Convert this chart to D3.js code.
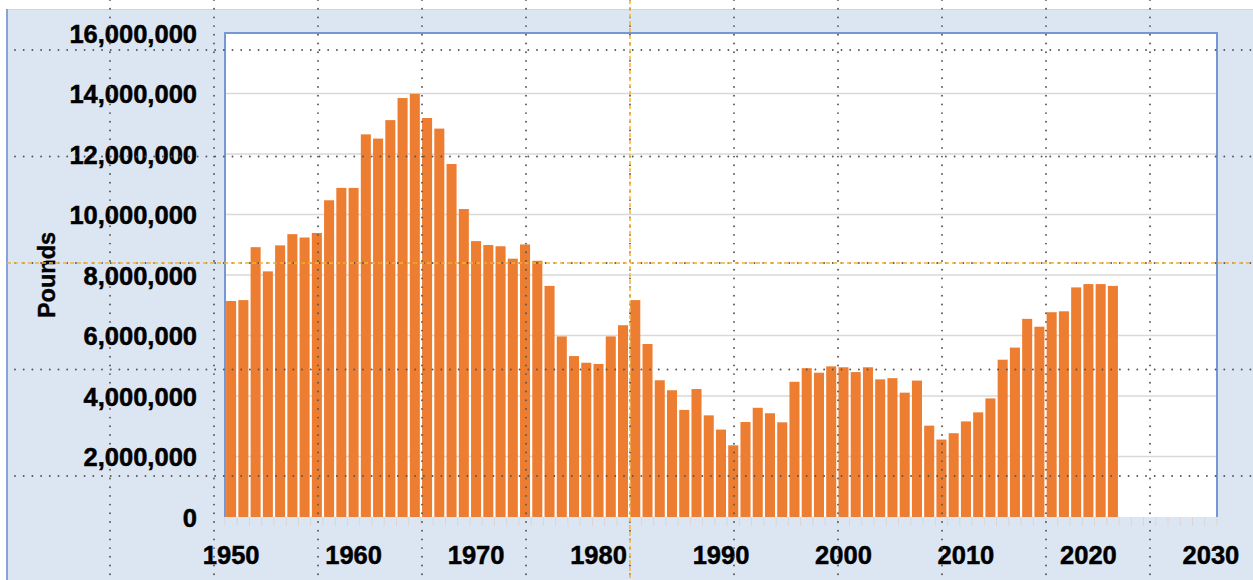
<!DOCTYPE html>
<html>
<head>
<meta charset="utf-8">
<script src="https://cdn.jsdelivr.net/npm/d3@7"></script>
<style>
  body { margin: 0; background: #fff; }
  text { font-family: "Liberation Sans", Arial, sans-serif; font-weight: bold; }
</style>
</head>
<body>
<svg id="chart" width="1253" height="580"></svg>
<script>
// pounds landed per year
var years = d3.range(1950, 2023);
var pounds = [
  7140000, 7170000, 8920000, 8120000, 8980000, 9350000, 9240000, 9390000, 10470000, 10880000,
  10880000, 12650000, 12510000, 13120000, 13850000, 13990000, 13190000, 12840000, 11670000, 10180000,
  9120000, 8990000, 8950000, 8540000, 9010000, 8470000, 7640000, 5970000, 5320000, 5100000,
  5060000, 5970000, 6340000, 7170000, 5720000, 4520000, 4190000, 3540000, 4230000, 3360000,
  2890000, 2370000, 3140000, 3610000, 3430000, 3130000, 4470000, 4920000, 4770000, 4980000,
  4950000, 4790000, 4950000, 4550000, 4590000, 4110000, 4510000, 3020000, 2560000, 2770000,
  3160000, 3460000, 3920000, 5200000, 5600000, 6550000, 6290000, 6770000, 6800000, 7590000,
  7700000, 7700000, 7640000
];
var axisYears = d3.range(1950, 2031);
var yearLabels = d3.range(1950, 2031, 10);
var poundTicks = d3.range(0, 16000001, 2000000);

var data = years.map(function(y, i) { return {year: y, value: pounds[i]}; });

var svg = d3.select("#chart"),
    W = +svg.attr("width"),
    H = +svg.attr("height"),
    plot = {left: 225, top: 33, right: 1217, bottom: 517};

var x = d3.scaleBand()
    .domain(axisYears)
    .range([plot.left, plot.right])
    .paddingInner(0.18)
    .paddingOuter(0.09);

var y = d3.scaleLinear()
    .domain([0, 16000000])
    .range([plot.bottom, plot.top]);

// chart area
svg.append("rect")
    .attr("x", 7).attr("y", 9)
    .attr("width", W - 7).attr("height", H - 9)
    .attr("fill", "#dce6f2");
svg.append("line")
    .attr("x1", 7).attr("x2", W).attr("y1", 9.5).attr("y2", 9.5)
    .attr("stroke", "#c9d6e8");
svg.append("line")
    .attr("x1", 7).attr("x2", 7).attr("y1", 9).attr("y2", H)
    .attr("stroke", "#86a4d6").attr("stroke-width", 2);

// plot area
svg.append("rect")
    .attr("x", plot.left).attr("y", plot.top)
    .attr("width", plot.right - plot.left).attr("height", plot.bottom - plot.top)
    .attr("fill", "#fff");

// horizontal gridlines
svg.append("g")
  .selectAll("line")
  .data(poundTicks.slice(1, -1))
  .enter().append("line")
    .attr("x1", plot.left).attr("x2", plot.right)
    .attr("y1", function(d) { return y(d); })
    .attr("y2", function(d) { return y(d); })
    .attr("stroke", "#d9d9d9")
    .attr("stroke-width", 1.5);

// year tick marks under the axis
var step = x.step();
svg.append("g")
  .selectAll("line")
  .data(axisYears.concat([2031]))
  .enter().append("line")
    .attr("x1", function(d, i) { return plot.left + i * step; })
    .attr("x2", function(d, i) { return plot.left + i * step; })
    .attr("y1", plot.bottom)
    .attr("y2", plot.bottom + 9)
    .attr("stroke", "#dcd6d0")
    .attr("stroke-width", 1);

// bars
svg.append("g")
  .selectAll("rect")
  .data(data)
  .enter().append("rect")
    .attr("x", function(d) { return x(d.year); })
    .attr("y", function(d) { return y(d.value); })
    .attr("width", x.bandwidth())
    .attr("height", function(d) { return y(0) - y(d.value); })
    .attr("fill", "#ed7d31");

// plot border (left, top, right)
svg.append("path")
    .attr("d", "M" + plot.left + "," + plot.bottom + "V" + plot.top + "H" + plot.right + "V" + plot.bottom)
    .attr("fill", "none")
    .attr("stroke", "#7597d2")
    .attr("stroke-width", 2);

// y axis labels
var yAxis = svg.append("g")
    .attr("transform", "translate(" + (plot.left - 28) + ",0)")
    .call(d3.axisLeft(y).tickValues(poundTicks).tickFormat(d3.format(",")).tickSize(0).tickPadding(0));
yAxis.select(".domain").remove();
yAxis.selectAll("text")
    .attr("fill", "#000")
    .attr("stroke", "#000")
    .attr("stroke-width", 0.5)
    .attr("font-size", "25.5px")
    .attr("dy", "0.36em");

// x axis labels
var xAxis = svg.append("g")
    .attr("transform", "translate(0," + plot.bottom + ")")
    .call(d3.axisBottom(x).tickValues(yearLabels).tickSize(0).tickPadding(0));
xAxis.select(".domain").remove();
xAxis.selectAll("text")
    .attr("fill", "#000")
    .attr("stroke", "#000")
    .attr("stroke-width", 0.5)
    .attr("font-size", "25.5px")
    .attr("dy", null)
    .attr("y", 47);

svg.append("text")
    .attr("transform", "translate(55,275) rotate(-90)")
    .attr("text-anchor", "middle")
    .attr("font-size", "23.5px")
    .attr("fill", "#000")
    .attr("stroke", "#000")
    .attr("stroke-width", 0.4)
    .text("Pounds");

// dotted guide grid laid over the picture
var gx = d3.range(110, 1200, 104),
    gy = d3.range(50, 500, 106.5);

svg.append("g")
  .selectAll("line")
  .data(gx)
  .enter().append("line")
    .attr("x1", function(d) { return d; }).attr("x2", function(d) { return d; })
    .attr("y1", 0).attr("y2", H)
    .attr("stroke", "#555")
    .attr("stroke-width", 1.9)
    .attr("stroke-linecap", "round")
    .attr("stroke-dasharray", "0 8.7");

svg.append("g")
  .selectAll("line")
  .data(gy)
  .enter().append("line")
    .attr("x1", 15).attr("x2", W)
    .attr("y1", function(d) { return d; }).attr("y2", function(d) { return d; })
    .attr("stroke", "#555")
    .attr("stroke-width", 1.9)
    .attr("stroke-linecap", "round")
    .attr("stroke-dasharray", "0 8.7");

// orange crosshair
svg.append("line")
    .attr("x1", gx[5]).attr("x2", gx[5]).attr("y1", 0).attr("y2", H)
    .attr("stroke", "#f2b235").attr("stroke-width", 1.5)
    .attr("stroke-dasharray", "4 3");
svg.append("line")
    .attr("x1", 7).attr("x2", W).attr("y1", gy[2]).attr("y2", gy[2])
    .attr("stroke", "#f2b235").attr("stroke-width", 1.5)
    .attr("stroke-dasharray", "4 3");
</script>
</body>
</html>
